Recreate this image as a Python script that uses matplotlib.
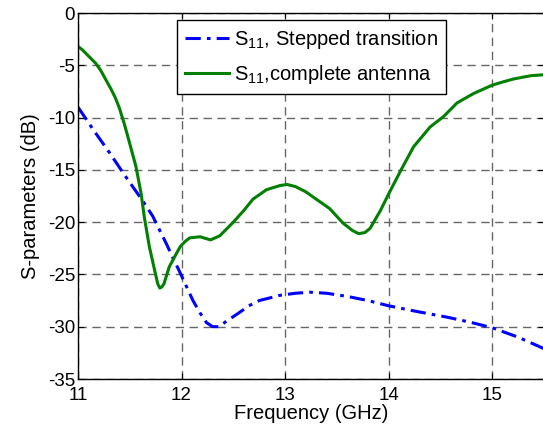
import matplotlib
matplotlib.use("Agg")
import matplotlib.pyplot as plt

plt.rcParams['font.family'] = ['Liberation Sans', 'DejaVu Sans']
plt.rcParams['mathtext.fontset'] = 'custom'
plt.rcParams['mathtext.rm'] = 'Liberation Sans'

# Data
freq_stepped = [11.0, 11.15, 11.3, 11.45, 11.62, 11.72, 11.79, 11.86, 11.91, 11.97,
                12.04, 12.11, 12.18, 12.24, 12.3, 12.36, 12.43, 12.55, 12.65, 12.75,
                12.95, 13.1, 13.24, 13.4, 13.6, 13.8, 14.0, 14.25, 14.57, 14.8,
                15.0, 15.25, 15.5]
s11_stepped = [-9.0, -11.2, -13.3, -15.5, -17.9, -19.4, -20.8, -22.2, -23.3, -24.5,
               -26.0, -27.5, -28.7, -29.6, -30.0, -30.0, -29.5, -28.7, -28.0, -27.5,
               -27.0, -26.8, -26.7, -26.8, -27.1, -27.5, -28.0, -28.5, -29.1, -29.6,
               -30.1, -31.0, -32.1]

freq_antenna = [11.0, 11.04, 11.08, 11.12, 11.17, 11.22, 11.27, 11.32, 11.36, 11.40,
                11.45, 11.50, 11.56, 11.61, 11.64, 11.69, 11.74, 11.77, 11.79, 11.81,
                11.83, 11.88, 11.95, 11.99, 12.04, 12.08, 12.18, 12.28, 12.37, 12.5,
                12.6, 12.69, 12.82, 12.95, 13.02, 13.1, 13.2, 13.3, 13.43, 13.56,
                13.65, 13.71, 13.77, 13.82, 13.92, 14.0, 14.12, 14.24, 14.40, 14.53,
                14.66, 14.82, 15.0, 15.1, 15.21, 15.37, 15.5]
s11_antenna = [-3.2, -3.5, -3.9, -4.3, -4.8, -5.5, -6.4, -7.3, -8.1, -9.1,
               -10.7, -12.5, -14.7, -17.3, -19.5, -22.4, -24.6, -25.9, -26.3, -26.2,
               -25.9, -24.3, -23.0, -22.3, -21.8, -21.5, -21.4, -21.7, -21.3, -20.0,
               -18.9, -17.8, -16.9, -16.5, -16.4, -16.6, -17.1, -17.8, -18.7, -20.1,
               -20.8, -21.1, -21.0, -20.6, -18.9, -17.3, -15.0, -12.8, -10.9, -9.9,
               -8.6, -7.7, -6.9, -6.6, -6.3, -6.0, -5.9]

xticks = [11, 12, 13, 14, 15]
yticks = [0, -5, -10, -15, -20, -25, -30, -35]

fig = plt.figure(figsize=(5.43, 4.32), dpi=100)
ax = fig.add_axes([78/543, 53/432, 466/543, 366/432])

ax.plot(freq_stepped, s11_stepped, color=(0, 0, 1), lw=2.2,
        linestyle=(0, (5, 2, 1.2, 2)),
        label=r'S$\mathregular{_{11}}$, Stepped transition')
ax.plot(freq_antenna, s11_antenna, color=(0, 0.5, 0), lw=2.2,
        label=r'S$\mathregular{_{11}}$,complete antenna')

ax.set_xlim(11, 15.5)
ax.set_ylim(-35, 0)
ax.set_xticks(xticks)
ax.set_yticks(yticks)
ax.set_xticklabels([str(t) for t in xticks])
ax.set_yticklabels([str(t) for t in yticks])
ax.tick_params(direction='in', top=True, right=True, labelsize=13.5, length=4)
ax.tick_params(axis='x', pad=6)
ax.tick_params(axis='y', pad=2)
ax.grid(True, linestyle=(0, (6, 4)), color='0.4', lw=1)
for s in ax.spines.values():
    s.set_linewidth(1)

ax.set_xlabel('Frequency (GHz)', fontsize=14.5, labelpad=0)
ax.set_ylabel('S-parameters (dB)', fontsize=14.5, labelpad=6)

leg = ax.legend(loc='upper left', bbox_to_anchor=(0.212, 0.982), fontsize=14.5,
                frameon=True, fancybox=False, edgecolor='black', framealpha=1,
                handlelength=2.2, borderpad=0.4, labelspacing=0.6,
                handletextpad=0.25, borderaxespad=0)
leg.get_frame().set_linewidth(1)

fig.savefig('out.png', dpi=100)
